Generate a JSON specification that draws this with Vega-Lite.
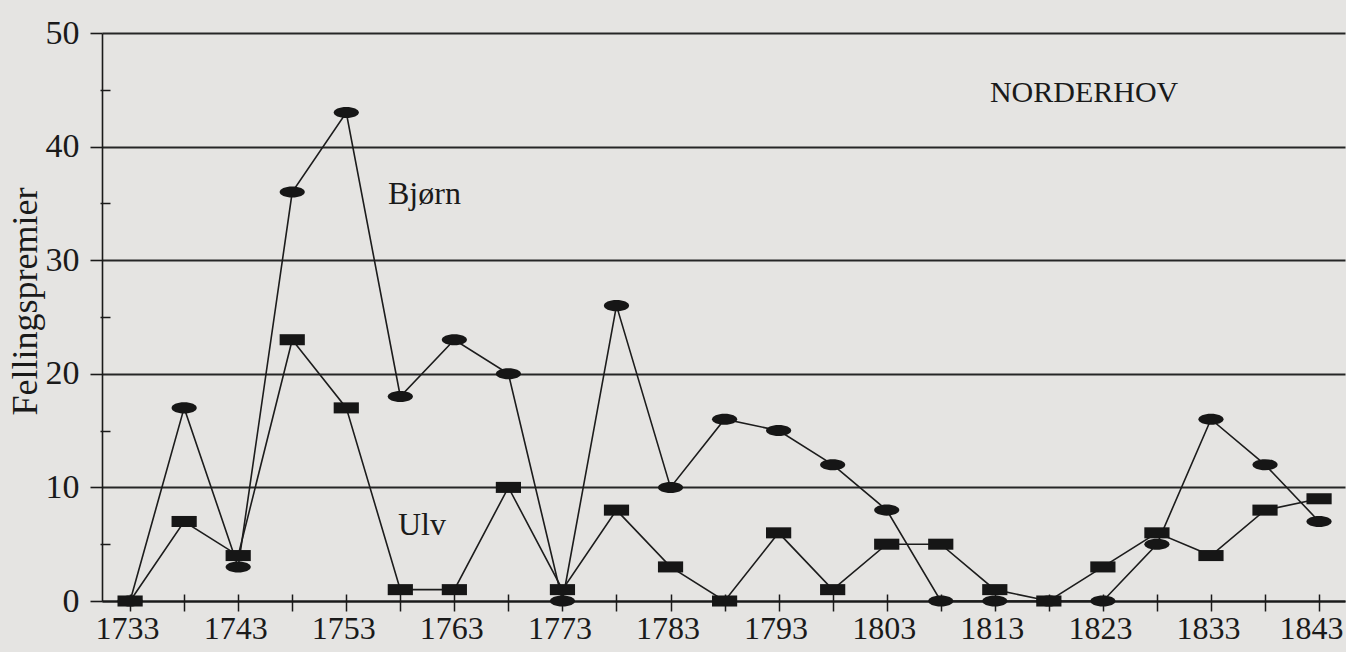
{
  "$schema": "https://vega.github.io/schema/vega-lite/v6.json",
  "width": 1243,
  "height": 568,
  "autosize": "none",
  "padding": {"left": 102, "top": 33, "right": 1, "bottom": 51},
  "background": "#e5e4e2",
  "config": {"view": {"stroke": null}, "font": "Liberation Serif"},
  "data": {
    "values": [
      {"year": 1733, "art": "Bjørn", "n": 0}, {"year": 1733, "art": "Ulv", "n": 0},
      {"year": 1738, "art": "Bjørn", "n": 17}, {"year": 1738, "art": "Ulv", "n": 7},
      {"year": 1743, "art": "Bjørn", "n": 3}, {"year": 1743, "art": "Ulv", "n": 4},
      {"year": 1748, "art": "Bjørn", "n": 36}, {"year": 1748, "art": "Ulv", "n": 23},
      {"year": 1753, "art": "Bjørn", "n": 43}, {"year": 1753, "art": "Ulv", "n": 17},
      {"year": 1758, "art": "Bjørn", "n": 18}, {"year": 1758, "art": "Ulv", "n": 1},
      {"year": 1763, "art": "Bjørn", "n": 23}, {"year": 1763, "art": "Ulv", "n": 1},
      {"year": 1768, "art": "Bjørn", "n": 20}, {"year": 1768, "art": "Ulv", "n": 10},
      {"year": 1773, "art": "Bjørn", "n": 0}, {"year": 1773, "art": "Ulv", "n": 1},
      {"year": 1778, "art": "Bjørn", "n": 26}, {"year": 1778, "art": "Ulv", "n": 8},
      {"year": 1783, "art": "Bjørn", "n": 10}, {"year": 1783, "art": "Ulv", "n": 3},
      {"year": 1788, "art": "Bjørn", "n": 16}, {"year": 1788, "art": "Ulv", "n": 0},
      {"year": 1793, "art": "Bjørn", "n": 15}, {"year": 1793, "art": "Ulv", "n": 6},
      {"year": 1798, "art": "Bjørn", "n": 12}, {"year": 1798, "art": "Ulv", "n": 1},
      {"year": 1803, "art": "Bjørn", "n": 8}, {"year": 1803, "art": "Ulv", "n": 5},
      {"year": 1808, "art": "Bjørn", "n": 0}, {"year": 1808, "art": "Ulv", "n": 5},
      {"year": 1813, "art": "Bjørn", "n": 0}, {"year": 1813, "art": "Ulv", "n": 1},
      {"year": 1818, "art": "Bjørn", "n": 0}, {"year": 1818, "art": "Ulv", "n": 0},
      {"year": 1823, "art": "Bjørn", "n": 0}, {"year": 1823, "art": "Ulv", "n": 3},
      {"year": 1828, "art": "Bjørn", "n": 5}, {"year": 1828, "art": "Ulv", "n": 6},
      {"year": 1833, "art": "Bjørn", "n": 16}, {"year": 1833, "art": "Ulv", "n": 4},
      {"year": 1838, "art": "Bjørn", "n": 12}, {"year": 1838, "art": "Ulv", "n": 8},
      {"year": 1843, "art": "Bjørn", "n": 7}, {"year": 1843, "art": "Ulv", "n": 9}
    ]
  },
  "layer": [
    {
      "mark": {"type": "line", "color": "#1c1c1c", "strokeWidth": 1.6},
      "encoding": {
        "x": {
          "field": "year", "type": "quantitative",
          "scale": {"domain": [1730.4, 1845.4], "nice": false, "zero": false},
          "axis": {
            "title": null,
            "values": [1733, 1743, 1753, 1763, 1773, 1783, 1793, 1803, 1813, 1823, 1833, 1843],
            "format": "d",
            "grid": false,
            "domain": true, "domainColor": "#1a1a1a", "domainWidth": 2,
            "ticks": true, "tickSize": 10, "tickOpacity": 0,
            "labelPadding": 2, "labelFontSize": 32, "labelFont": "Liberation Serif",
            "labelOffset": {"condition": {"test": "datum.value == 1843", "value": -8}, "value": -3},
            "labelColor": "#1a1a1a", "labelFlush": false, "labelOverlap": false
          }
        },
        "y": {
          "field": "n", "type": "quantitative",
          "scale": {"domain": [0, 50], "nice": false},
          "axis": {
            "values": [0, 10, 20, 30, 40, 50],
            "title": "Fellingspremier",
            "titleFont": "Liberation Serif", "titleFontSize": 36, "titleFontWeight": "normal",
            "titleColor": "#1a1a1a", "titleAngle": 270, "titleX": -66, "titleY": 268,
            "titleAlign": "center", "titleBaseline": "alphabetic",
            "grid": true, "gridColor": "#262626", "gridWidth": 1.8, "gridOpacity": 1,
            "domain": true, "domainColor": "#1a1a1a", "domainWidth": 1.6,
            "tickSize": 12, "tickColor": "#1a1a1a", "tickWidth": 1.6,
            "labelPadding": 11, "labelFontSize": 34, "labelFont": "Liberation Serif",
            "labelColor": "#1a1a1a", "labelFlush": false, "labelOverlap": false
          }
        },
        "detail": {"field": "art", "type": "nominal"}
      }
    },
    {
      "mark": {"type": "point", "filled": true, "opacity": 1, "color": "#161616", "size": 576, "strokeWidth": 0},
      "encoding": {
        "x": {
          "field": "year", "type": "quantitative",
          "axis": {
            "orient": "bottom", "title": null, "offset": -7,
            "values": [1733, 1738, 1743, 1748, 1753, 1758, 1763, 1768, 1773, 1778, 1783, 1788, 1793, 1798, 1803, 1808, 1813, 1818, 1823, 1828, 1833, 1838, 1843],
            "domain": false, "labels": false, "grid": false,
            "tickSize": 17, "tickColor": "#1a1a1a", "tickWidth": 1.5
          }
        },
        "y": {
          "field": "n", "type": "quantitative",
          "axis": {
            "orient": "left", "title": null, "offset": -8,
            "values": [5, 15, 25, 35, 45],
            "domain": false, "labels": false, "grid": false,
            "tickSize": 10, "tickColor": "#1a1a1a", "tickWidth": 1.5
          }
        },
        "shape": {
          "field": "art", "type": "nominal",
          "scale": {
            "domain": ["Bjørn", "Ulv"],
            "range": [
              "M-1.05,0A1.05,0.46,0,1,0,1.05,0A1.05,0.46,0,1,0,-1.05,0Z",
              "M-1.05,-0.46H1.05V0.46H-1.05Z"
            ]
          },
          "legend": null
        }
      }
    },
    {
      "data": {"values": [{"label": "Bjørn"}]},
      "mark": {"type": "text", "align": "left", "baseline": "alphabetic", "fontSize": 32, "font": "Liberation Serif", "color": "#1a1a1a"},
      "encoding": {
        "x": {"datum": 1756.86, "type": "quantitative", "axis": null},
        "y": {"datum": 34.95, "type": "quantitative", "axis": null},
        "text": {"field": "label"}
      }
    },
    {
      "data": {"values": [{"label": "Ulv"}]},
      "mark": {"type": "text", "align": "left", "baseline": "alphabetic", "fontSize": 32, "font": "Liberation Serif", "color": "#1a1a1a"},
      "encoding": {
        "x": {"datum": 1757.78, "type": "quantitative", "axis": null},
        "y": {"datum": 5.81, "type": "quantitative", "axis": null},
        "text": {"field": "label"}
      }
    },
    {
      "data": {"values": [{"label": "NORDERHOV"}]},
      "mark": {"type": "text", "align": "left", "baseline": "alphabetic", "fontSize": 30, "font": "Liberation Serif", "color": "#1a1a1a"},
      "encoding": {
        "x": {"datum": 1812.55, "type": "quantitative", "axis": null},
        "y": {"datum": 43.93, "type": "quantitative", "axis": null},
        "text": {"field": "label"}
      }
    }
  ],
  "resolve": {"axis": {"x": "independent", "y": "independent"}}
}
